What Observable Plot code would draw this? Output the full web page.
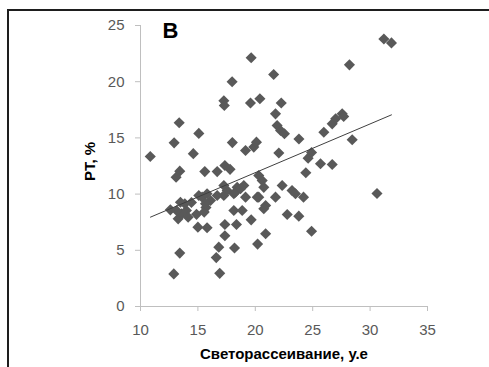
<!DOCTYPE html>
<html><head><meta charset="utf-8">
<script src="https://cdn.jsdelivr.net/npm/d3@7"></script>
<script src="https://cdn.jsdelivr.net/npm/@observablehq/plot@0.6"></script>
<style>
body{margin:0;background:#fff;}
#wrap{position:relative;width:489px;height:367px;overflow:hidden;background:#fff;}
#frame{position:absolute;left:7px;top:9px;width:500px;height:400px;border-top:2px solid #1e1e1e;border-left:2px solid #1e1e1e;pointer-events:none;}
#wrap svg{position:absolute;left:0;top:0;}
</style></head><body><div id="wrap"><div id="frame"></div></div>
<script>
// Светорассеивание, у.е (x) and PT, % (y)
const xValues = [10.85,12.9,13.42,12.93,13.37,14.6,15.08,13.42,13.1,15.6,16.68,17.35,17.8,17.26,17.3,17.98,19.64,21.6,19.58,20.4,22.26,21.76,21.9,22.2,22.54,23.8,18.0,19.15,19.87,20.1,22.05,24.6,24.9,25.97,26.7,27.0,27.57,28.2,28.44,26.7,25.68,24.4,30.6,31.2,31.86,20.3,20.6,20.74,18.42,19.0,18.13,19.15,20.17,22.34,23.2,23.5,24.2,20.9,21.76,18.13,18.86,20.74,18.36,19.64,22.78,23.79,24.9,20.9,20.2,18.19,16.9,16.6,16.82,17.35,17.35,15.0,15.8,14.88,15.7,15.55,13.28,13.57,14.0,13.14,13.86,14.15,14.44,12.6,15.08,15.37,15.8,16.1,15.66,16.68,17.26,17.55,17.26,18.27,18.71,20.3,13.48,27.7];
const yValues = [13.35,2.9,4.75,14.56,16.35,13.6,15.4,12.04,11.5,12.0,12.0,12.54,12.2,18.3,17.88,20.0,22.13,20.64,18.1,18.48,18.1,17.14,16.1,15.66,15.37,14.9,14.58,13.88,14.18,14.62,13.65,13.2,13.7,15.5,16.25,16.7,17.14,21.5,14.83,12.63,12.7,11.9,10.05,23.8,23.45,11.65,11.2,10.6,10.6,10.77,10.03,9.73,9.73,10.77,10.32,10.03,9.73,8.99,9.73,8.54,8.54,8.69,7.3,7.71,8.19,8.04,6.7,6.47,5.55,5.2,2.95,4.35,5.28,6.3,7.3,7.06,7.0,8.2,8.8,8.4,7.8,8.25,8.54,8.54,9.14,7.95,9.25,8.6,9.88,9.73,10.03,9.43,9.14,9.88,10.77,10.32,9.88,10.17,10.47,9.73,9.28,16.9];
const xTicks = [10,15,20,25,30,35];
const yTicks = [0,5,10,15,20,25];
const trendX = [10.87,31.86];
const trendY = [7.95,17.05];
const xTitle = "Светорассеивание, у.е";
const yTitle = "PT, %";
const panelLabel = "B";

const points = xValues.map((x,i)=>({x, y:yValues[i]}));
const trend = trendX.map((x,i)=>({x, y:trendY[i]}));

const chart = Plot.plot({
  width: 489, height: 367,
  marginLeft: 140, marginRight: 62, marginTop: 25, marginBottom: 61,
  style: {fontFamily: "'Liberation Sans', Arial, sans-serif", background: "transparent", overflow: "visible"},
  x: {domain: [10,35], ticks: xTicks, label: null},
  y: {domain: [0,25], ticks: yTicks, label: null},
  marks: [
    Plot.axisX({ticks: xTicks, tickSize: 5, tickPadding: 13, fontSize: 15, color: "#595959", stroke: "#bfbfbf", tickFormat: d=>String(d)}),
    Plot.axisY({ticks: yTicks, tickSize: 5, tickPadding: 11, fontSize: 15, color: "#595959", stroke: "#bfbfbf", tickFormat: d=>String(d)}),
    Plot.ruleY([0], {stroke: "#bfbfbf"}),
    Plot.ruleX([10], {stroke: "#bfbfbf"}),
    Plot.dot(points, {x: "x", y: "y", symbol: "diamond2", r: 5, fill: "#595959", stroke: "none"}),
    Plot.line(trend, {x: "x", y: "y", stroke: "#404040", strokeWidth: 1}),
    Plot.text([panelLabel], {frameAnchor: "top-left", dx: 22, dy: 12, text: d=>d, fontSize: 22, fontWeight: "bold", fill: "#000", textAnchor: "start", lineAnchor: "bottom"}),
    Plot.text([xTitle], {frameAnchor: "bottom", dy: 52, text: d=>d, fontSize: 15, fontWeight: "bold", fill: "#000", textAnchor: "middle", lineAnchor: "bottom"}),
    Plot.text([yTitle], {frameAnchor: "left", dx: -46, dy: -4.5, rotate: -90, text: d=>d, fontSize: 15, fontWeight: "bold", fill: "#000", textAnchor: "middle", lineAnchor: "bottom"})
  ]
});
document.getElementById("wrap").insertBefore(chart, document.getElementById("frame"));
</script>
</body></html>
